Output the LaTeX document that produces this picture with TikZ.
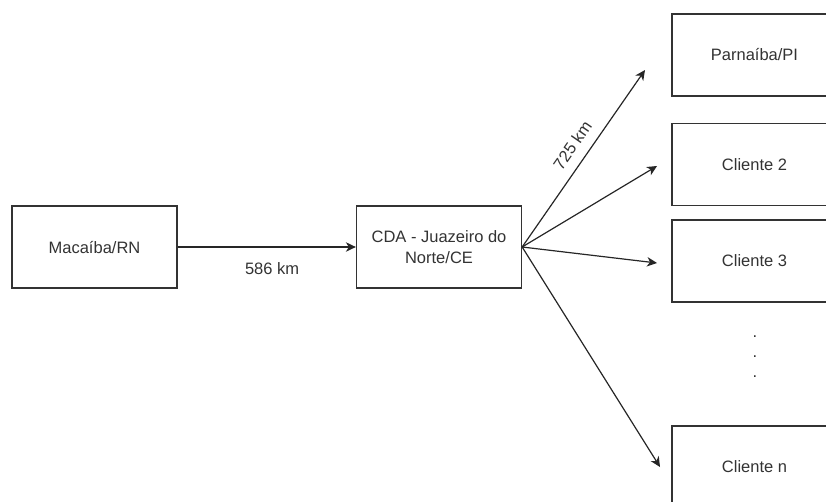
\documentclass[tikz,border=0pt]{standalone}
\usepackage{fontspec}
\setmainfont{Liberation Sans}
\usetikzlibrary{arrows.meta}

\begin{document}
\begin{tikzpicture} [x = 1pt, y = -1pt, font = \fontsize{16.5}{21}\selectfont,
  caixa/.style = {draw = black!80, line width = 1.3pt, minimum width = 165pt, minimum height = 82pt, text = black!80, align = center},
  seta/.style = {draw = black!85, line width = 1.2pt, -{Stealth[length = 10pt, width = 9.5pt, inset = 3pt]}},
  rotulo/.style = {text = black!80, inner sep = 3pt}]
\useasboundingbox (0, 0) rectangle (826, 501);
\clip (0, 0) rectangle (826, 501);
\node[caixa] (macaiba) at (94.5, 247){Macaíba/RN};
\node[caixa] (cda) at (439, 247){CDA - Juazeiro do\\Norte/CE};
\node[caixa] (parnaiba) at (754.5, 55){Parnaíba/PI};
\node[caixa] (cliente2) at (754.5, 164.5){Cliente 2};
\node[caixa] (cliente3) at (754.5, 261){Cliente 3};
\node[caixa] (clienten) at (754.5, 467){Cliente n};
\node[text = black!80, align = center, font = \fontsize{16.5}{20}\selectfont] (pontos) at (755, 357){.\\.\\.};
\coordinate (fim1) at (645, 70);
\coordinate (fim2) at (657, 166);
\coordinate (fim3) at (657, 263);
\coordinate (fimn) at (660, 467);
\draw[seta] (macaiba.east) -- node[rotulo, pos = 0.53, below = 12pt]{586 km} (cda.west);
\draw[seta] (cda.east) -- node[rotulo, pos = 0.52, sloped, above = 7pt]{725 km} (fim1);
\draw[seta] (cda.east) -- (fim2);
\draw[seta] (cda.east) -- (fim3);
\draw[seta] (cda.east) -- (fimn);
\end{tikzpicture}
\end{document}
